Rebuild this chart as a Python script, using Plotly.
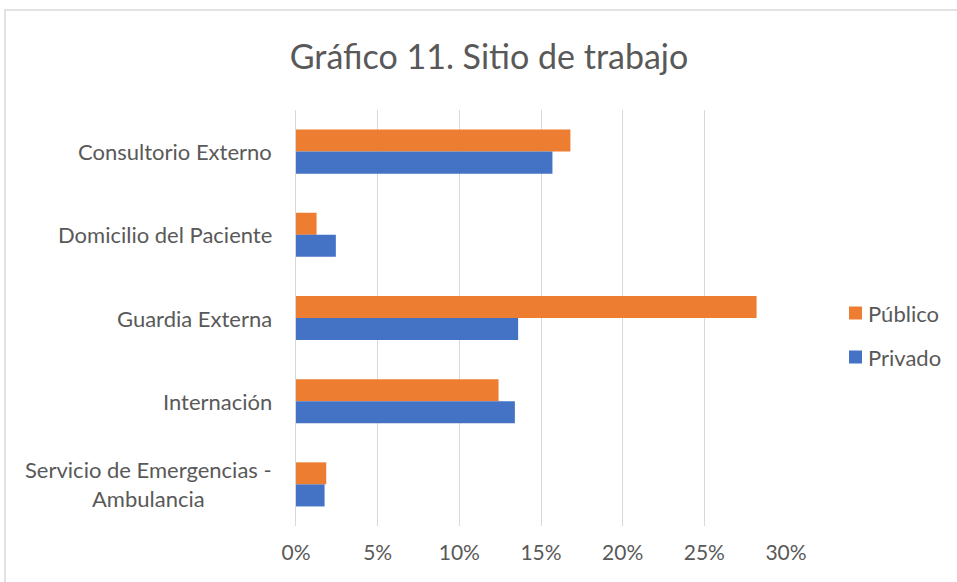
import plotly.graph_objects as go

# ---- data ------------------------------------------------------------------
SITIOS = ["Consultorio Externo", "Domicilio del Paciente", "Guardia Externa",
          "Internación", "Servicio de Emergencias - Ambulancia"]
ETIQUETAS = ["Consultorio Externo", "Domicilio del Paciente", "Guardia Externa",
             "Internación", "Servicio de Emergencias -<br>Ambulancia"]
PUBLICO = [16.8, 1.26, 28.2, 12.4, 1.85]
PRIVADO = [15.7, 2.44, 13.6, 13.4, 1.75]
SERIES = [("Público", PUBLICO), ("Privado", PRIVADO)]
X_TICKS = [0, 5, 10, 15, 20, 25, 30]

ORANGE = "#ED7D31"
BLUE = "#4472C4"
COLORS = [ORANGE, BLUE]
TXT = "#595959"
GRID = "#D9D9D9"
FONT = "Lato, Open Sans, sans-serif"

# plot area in pixels (used only to place the frame / legend in paper coords)
L, R, T, B = 296, 786, 110, 526


def px(x):
    return (x - L) / (R - L)


def py(y):
    return (B - y) / (B - T)


fig = go.Figure()
for (name, vals), col in zip(SERIES, COLORS):
    fig.add_trace(go.Bar(y=SITIOS, x=vals, name=name, orientation="h",
                         marker=dict(color=col, line=dict(width=0))))

# category labels as annotations so the two-line label can be centred like Excel
annotations = [dict(x=px(274), xref="paper", y=cat, yref="y", text=lab,
                    xanchor="right", yanchor="middle", align="center", showarrow=False,
                    font=dict(size=22, color=TXT, family=FONT))
               for cat, lab in zip(SITIOS, ETIQUETAS)]

# legend drawn by hand (Excel puts the label close to the swatch)
shapes = [dict(type="rect", xref="paper", yref="paper",
               x0=px(5), x1=2, y0=-1, y1=py(10),
               line=dict(color=GRID, width=1.5), layer="below")]
for i, ((name, _), col) in enumerate(zip(SERIES, COLORS)):
    cy = 313 + 44 * i
    shapes.append(dict(type="rect", xref="paper", yref="paper",
                       x0=px(849), x1=px(862), y0=py(cy + 6.5), y1=py(cy - 6.5),
                       fillcolor=col, line=dict(width=0)))
    annotations.append(dict(x=px(866), xref="paper", y=py(cy), yref="paper", text=name,
                            xanchor="left", yanchor="middle", showarrow=False,
                            font=dict(size=22, color=TXT, family=FONT)))

fig.update_layout(
    width=957, height=582,
    paper_bgcolor="white", plot_bgcolor="white",
    font=dict(family=FONT, color=TXT, size=20),
    title=dict(text="Gráfico 11. Sitio de trabajo", x=0.511, xanchor="center",
               y=0.902, yanchor="middle", font=dict(size=34, color=TXT, family=FONT)),
    margin=dict(l=L, r=957 - R, t=T, b=582 - B),
    barmode="group", bargap=0.47, bargroupgap=0,
    showlegend=False,
    xaxis=dict(range=[0, 30], tickvals=X_TICKS, ticktext=[f"{v}%" for v in X_TICKS],
               showgrid=True, gridcolor=GRID, gridwidth=1, zeroline=False,
               showline=False, ticks="", ticklabelstandoff=12,
               tickfont=dict(size=21, color=TXT, family=FONT)),
    yaxis=dict(autorange="reversed", showgrid=False, showline=True, linecolor=GRID,
               ticks="", showticklabels=False),
    shapes=shapes,
    annotations=annotations,
)

fig.write_html("out.html", config={"displayModeBar": False},
               post_script="document.body.style.margin='0';")
